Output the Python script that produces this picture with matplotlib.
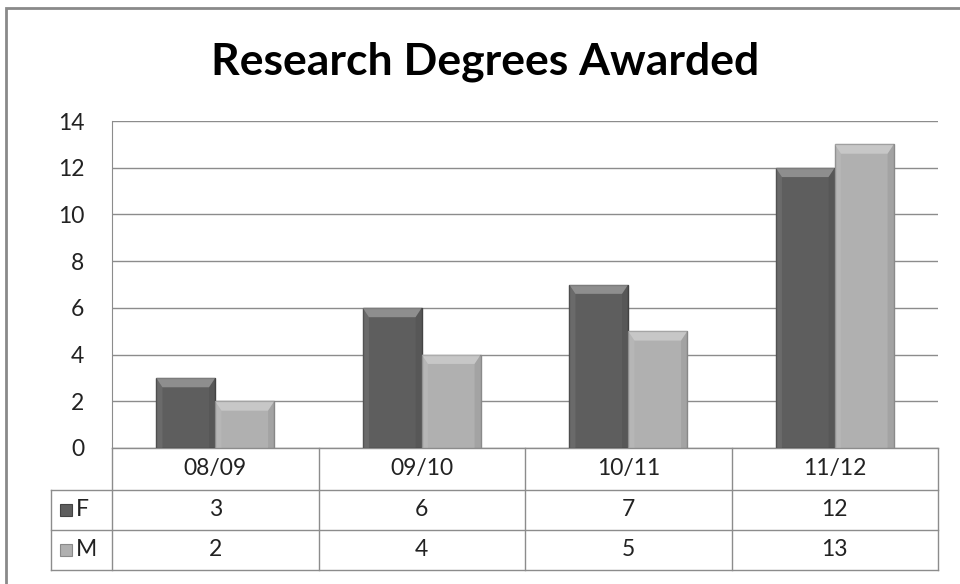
import matplotlib.pyplot as plt
import numpy as np
from matplotlib.patches import Rectangle, Polygon
from matplotlib.lines import Line2D

plt.rcParams['font.family'] = ['Lato', 'DejaVu Sans']

years = ['08/09', '09/10', '10/11', '11/12']
f_vals = [3, 6, 7, 12]
m_vals = [2, 4, 5, 13]
series = [('F', f_vals, '#5e5e5e', '#444444'), ('M', m_vals, '#b0b0b0', '#8a8a8a')]

W, H = 960, 584
fig = plt.figure(figsize=(W / 100, H / 100), dpi=100)

# outer chart border
fig.patches.append(Rectangle((6 / W, -0.05), 1.1, 1 - 8 / H + 0.05, transform=fig.transFigure,
                             fill=False, edgecolor='#8a8a8a', lw=2))

ax = fig.add_axes([112 / W, (H - 448) / H, 826 / W, 327 / H])
ax.set_xlim(-0.5, 3.5)
ax.set_ylim(0, 14)
ax.set_yticks(range(0, 15, 2))
ax.set_xticks([])
ax.grid(axis='y', color='#8c8c8c', lw=1)
ax.set_axisbelow(True)
for s in ['right', 'bottom', 'top']:
    ax.spines[s].set_visible(False)
ax.spines['left'].set_color('#8c8c8c')
ax.tick_params(axis='y', length=0, labelsize=16.5, pad=20, labelcolor='#222222')

bw = 2 / 7.0
x = np.arange(len(years))
bev = 0.03
dy = 0.4
for k, (name, vals, col, edge) in enumerate(series):
    xs = x + (k - 0.5) * bw
    bars = ax.bar(xs, vals, width=bw, color=col, edgecolor=edge, lw=1, zorder=3)
    for b in bars:
        x0, y0 = b.get_x(), b.get_y()
        w, h = b.get_width(), b.get_height()
        # top bevel lighter
        ax.add_patch(Polygon([(x0, y0 + h), (x0 + w, y0 + h), (x0 + w - bev, y0 + h - dy),
                              (x0 + bev, y0 + h - dy)], closed=True,
                             facecolor='white', alpha=0.3, lw=0, zorder=4))
        # left side bevel
        ax.add_patch(Polygon([(x0, y0 + h), (x0 + bev, y0 + h - dy), (x0 + bev, y0), (x0, y0)],
                             closed=True, facecolor='white', alpha=0.08, lw=0, zorder=4))
        # right side shade
        ax.add_patch(Polygon([(x0 + w, y0 + h), (x0 + w - bev, y0 + h - dy), (x0 + w - bev, y0),
                              (x0 + w, y0)], closed=True, facecolor='black', alpha=0.07, lw=0, zorder=4))

# data table under the plot
tr = ax.get_xaxis_transform()
px = 1 / 327.0
rows_y = [0, -42 * px, -82 * px, -122 * px]
lab_left = -0.5 - 61 / 206.5
lc = '#8c8c8c'

def hline(x0, x1, y):
    ax.add_line(Line2D([x0, x1], [y, y], transform=tr, color=lc, lw=1, clip_on=False))

def vline(xv, y0, y1):
    ax.add_line(Line2D([xv, xv], [y0, y1], transform=tr, color=lc, lw=1, clip_on=False))

hline(-0.5, 3.5, rows_y[0])
hline(lab_left, 3.5, rows_y[1])
hline(lab_left, 3.5, rows_y[2])
hline(lab_left, 3.5, rows_y[3])
for i in range(5):
    vline(-0.5 + i, rows_y[0], rows_y[3])
vline(lab_left, rows_y[1], rows_y[3])

fs = 16.5
for i, yr in enumerate(years):
    ax.text(i, (rows_y[0] + rows_y[1]) / 2, yr, transform=tr, ha='center', va='center',
            fontsize=fs, color='#222222')
for r, (name, vals, col, edge) in enumerate(series):
    yc = (rows_y[r + 1] + rows_y[r + 2]) / 2
    for i, v in enumerate(vals):
        ax.text(i, yc, str(v), transform=tr, ha='center', va='center', fontsize=fs, color='#222222')
    sq = 12 / 206.5
    ax.add_patch(Rectangle((lab_left + 9 / 206.5, yc - 6 * px), sq, 12 * px, transform=tr,
                           facecolor=col, edgecolor=edge, lw=0.8, clip_on=False))
    ax.text(lab_left + 25 / 206.5, yc, name, transform=tr, ha='left', va='center',
            fontsize=fs, color='#222222')

fig.text(485 / W, 1 - 62 / H, 'Research Degrees Awarded', ha='center', va='center',
         fontsize=32, fontweight='bold', color='black')

fig.savefig('out.png', dpi=100)
